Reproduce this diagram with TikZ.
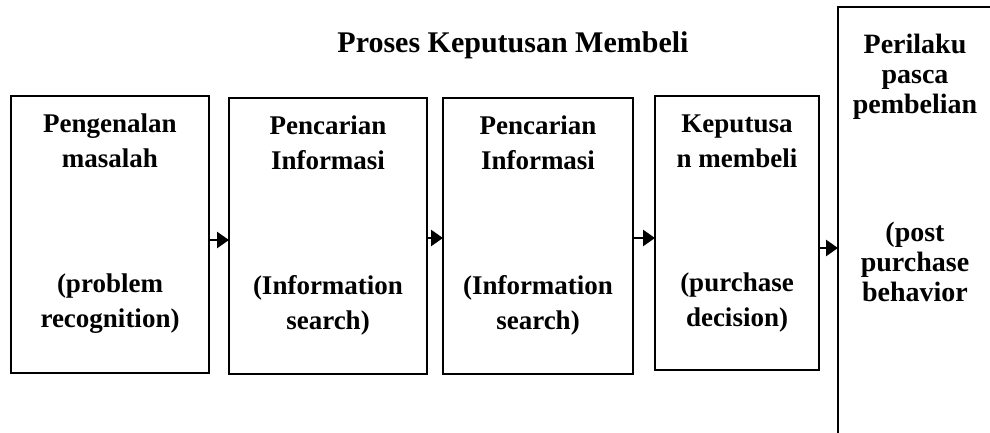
\documentclass[tikz,border=0pt]{standalone}
\usepackage{fontspec}
\setmainfont{Liberation Serif}
\usetikzlibrary{arrows.meta}
\begin{document}
\begin{tikzpicture}[x=1pt,y=-1pt,
  box/.style={draw, line width=2.8pt, inner sep=0pt, outer sep=0pt, anchor=north west},
  lbl/.style={align=center, font=\bfseries\fontsize{27}{35}\selectfont, inner sep=0pt, anchor=base},
  lblb/.style={lbl, font=\bfseries\fontsize{28}{30}\selectfont},
  arr/.style={line width=2.6pt, -{Triangle[length=12pt,width=16pt]}}]
\useasboundingbox (0,0) rectangle (990,432);
\clip (0,0) rectangle (990,432);
\node[anchor=base, inner sep=0pt, font=\bfseries\fontsize{30}{36}\selectfont] (title) at (513,52) {Proses Keputusan Membeli};
\node[box, minimum width=198pt, minimum height=277pt] (b1) at (11,96) {};
\node[box, minimum width=198pt, minimum height=276pt] (b2) at (229,98) {};
\node[box, minimum width=190pt, minimum height=276pt] (b3) at (443,98) {};
\node[box, minimum width=164pt, minimum height=274pt] (b4) at (655,96) {};
\node[box, minimum width=200pt, minimum height=450pt] (b5) at (838,7) {};
\node[lbl] (t1a) at (110,167) {Pengenalan\\masalah};
\node[lbl] (t1b) at (110,327) {(problem\\recognition)};
\node[lbl] (t2a) at (328,169) {Pencarian\\Informasi};
\node[lbl] (t2b) at (328,329) {(Information\\search)};
\node[lbl] (t3a) at (538,169) {Pencarian\\Informasi};
\node[lbl] (t3b) at (538,329) {(Information\\search)};
\node[lbl] (t4a) at (737,167) {Keputusa\\n membeli};
\node[lbl] (t4b) at (737,326) {(purchase\\decision)};
\node[lblb] (t5a) at (915,113) {Perilaku\\pasca\\pembelian};
\node[lblb] (t5b) at (915,301) {(post\\purchase\\behavior};
\coordinate (a1) at ([yshift=-5.5pt]b1.east);
\coordinate (a2) at ([yshift=-2pt]b2.east);
\coordinate (a3) at ([yshift=-2pt]b3.east);
\coordinate (a4) at ([yshift=-15pt]b4.east);
\draw[arr] (a1) -- (a1 -| b2.west);
\draw[arr] (a2) -- (a2 -| b3.west);
\draw[arr] (a3) -- (a3 -| b4.west);
\draw[arr] (a4) -- (a4 -| b5.west);
\end{tikzpicture}
\end{document}
